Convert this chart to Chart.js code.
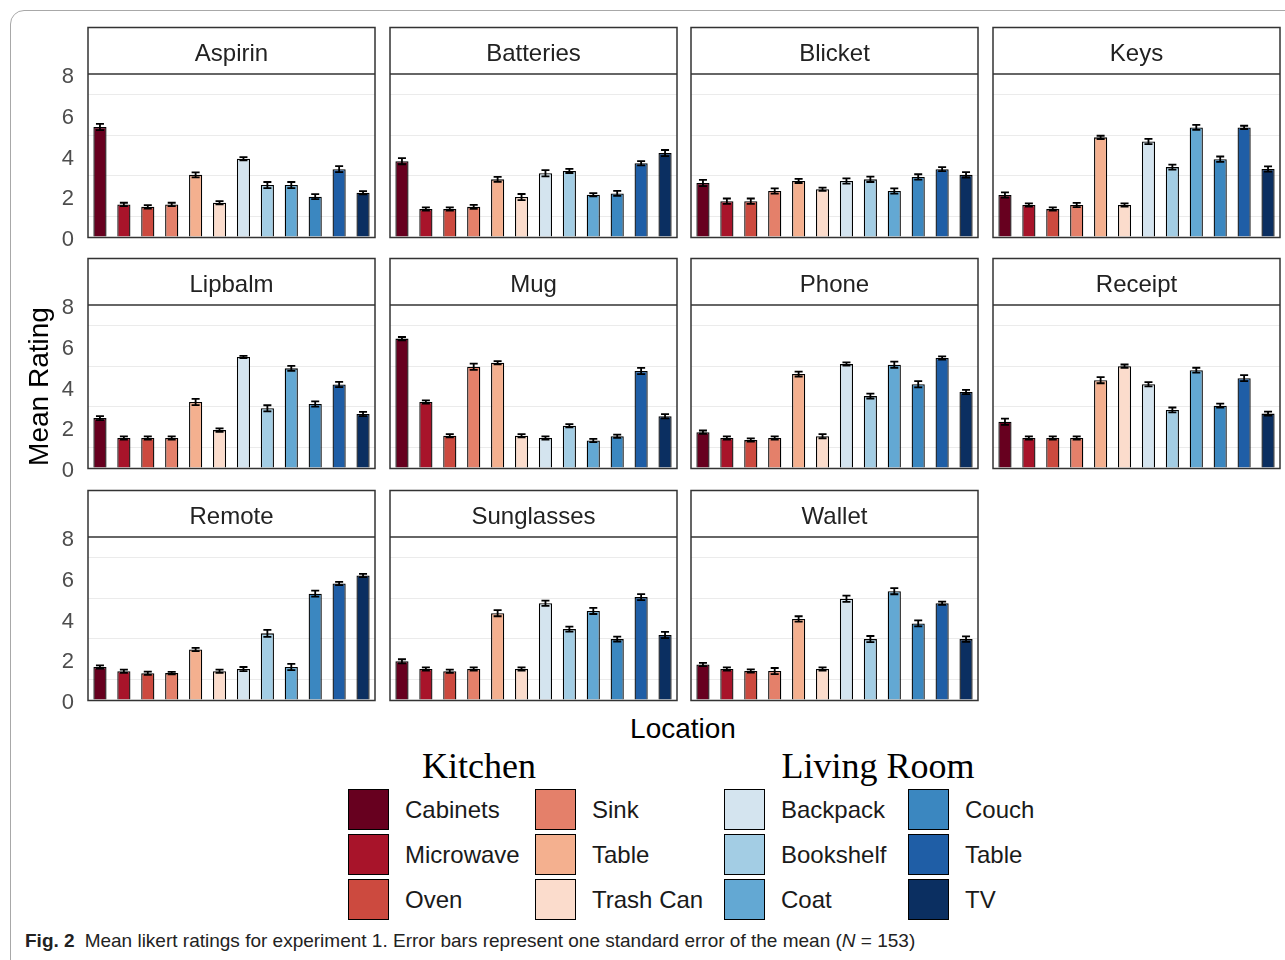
<!DOCTYPE html>
<html lang="en">
<head>
  <meta charset="UTF-8">
  <title>Mean likert ratings for experiment 1</title>
  <script src="https://cdn.jsdelivr.net/npm/chart.js"></script>
  <style>
    body {
      margin: 0;
      width: 1285px;
      height: 960px;
      overflow: hidden;
      position: relative;
      background: #fff;
      font-family: "Liberation Sans", Arial, sans-serif;
    }
    .frame {
      position: absolute;
      left: 10px;
      top: 10px;
      width: 1300px;
      height: 1000px;
      border: 1px solid #a8a8a8;
      border-radius: 14px;
    }
    .panel { position: absolute; }
    .xtitle {
      position: absolute;
      left: 583px;
      top: 713px;
      width: 200px;
      text-align: center;
      font-size: 28px;
      color: #000;
    }
    .group {
      position: absolute;
      font-family: "Liberation Serif", "Times New Roman", serif;
      font-size: 36px;
      color: #000;
      transform: translateX(-50%);
      white-space: nowrap;
    }
    .swatch {
      position: absolute;
      width: 39px;
      height: 39px;
      border: 1.5px solid #000;
    }
    .lab {
      position: absolute;
      font-size: 24px;
      color: #1a1a1a;
      white-space: nowrap;
    }
    .caption {
      position: absolute;
      left: 25px;
      top: 930px;
      font-size: 19px;
      color: #222;
      white-space: nowrap;
    }
    .caption b { margin-right: 10px; }
  </style>
</head>
<body>
  <div class="frame"></div>
  <div class="xtitle">Location</div>
  <div class="caption"><b>Fig. 2</b>Mean likert ratings for experiment 1. Error bars represent one standard error of the mean (<i>N</i> = 153)</div>

  <script>
    const products = ['Aspirin', 'Batteries', 'Blicket', 'Keys', 'Lipbalm', 'Mug', 'Phone', 'Receipt', 'Remote', 'Sunglasses', 'Wallet'];
    const locations = ['Cabinets', 'Microwave', 'Oven', 'Sink', 'Table', 'Trash Can',
                       'Backpack', 'Bookshelf', 'Coat', 'Couch', 'Table', 'TV'];
    const rooms = ['Kitchen', 'Living Room'];
    const colors = ['#67001f', '#a8142a', '#cc4a3f', '#e4806a', '#f4b08f', '#fbdccc',
                    '#d4e4ef', '#a3cde4', '#63a8d3', '#3b87c0', '#1f5ea6', '#0b2f61'];
    const yTicks = [0, 2, 4, 6, 8];

    // mean ratings per object, one value per location
    const aspirin    = [5.40, 1.60, 1.48, 1.60, 3.05, 1.68, 3.84, 2.55, 2.55, 1.98, 3.33, 2.17];
    const batteries  = [3.72, 1.37, 1.37, 1.48, 2.83, 1.96, 3.13, 3.24, 2.07, 2.14, 3.62, 4.12];
    const blicket    = [2.65, 1.76, 1.76, 2.26, 2.75, 2.34, 2.75, 2.83, 2.26, 2.95, 3.33, 3.05];
    const keys       = [2.06, 1.57, 1.37, 1.57, 4.89, 1.57, 4.69, 3.43, 5.38, 3.82, 5.38, 3.34];
    const lipbalm    = [2.45, 1.47, 1.47, 1.47, 3.24, 1.86, 5.45, 2.93, 4.89, 3.14, 4.10, 2.65];
    const mug        = [6.35, 3.24, 1.58, 4.97, 5.17, 1.58, 1.47, 2.07, 1.35, 1.56, 4.76, 2.54];
    const phone      = [1.76, 1.47, 1.37, 1.47, 4.61, 1.56, 5.10, 3.53, 5.07, 4.11, 5.40, 3.73];
    const receipt    = [2.27, 1.47, 1.47, 1.47, 4.31, 5.00, 4.11, 2.85, 4.80, 3.06, 4.41, 2.67];
    const remote     = [1.62, 1.41, 1.31, 1.32, 2.48, 1.41, 1.52, 3.27, 1.62, 5.22, 5.72, 6.11];
    const sunglasses = [1.90, 1.52, 1.41, 1.52, 4.26, 1.52, 4.75, 3.48, 4.37, 2.99, 5.05, 3.19];
    const wallet     = [1.74, 1.52, 1.42, 1.42, 3.98, 1.52, 4.97, 2.99, 5.34, 3.76, 4.75, 2.99];

    // standard errors
    const aspirinSE    = [0.15, 0.08, 0.08, 0.08, 0.12, 0.08, 0.08, 0.15, 0.15, 0.12, 0.15, 0.08];
    const batteriesSE  = [0.15, 0.08, 0.08, 0.10, 0.12, 0.15, 0.15, 0.10, 0.08, 0.12, 0.10, 0.15];
    const blicketSE    = [0.15, 0.13, 0.13, 0.13, 0.10, 0.08, 0.13, 0.13, 0.13, 0.13, 0.10, 0.13];
    const keysSE       = [0.13, 0.08, 0.08, 0.10, 0.08, 0.08, 0.13, 0.12, 0.12, 0.13, 0.08, 0.13];
    const lipbalmSE    = [0.10, 0.08, 0.08, 0.08, 0.15, 0.08, 0.05, 0.15, 0.12, 0.13, 0.13, 0.10];
    const mugSE        = [0.08, 0.08, 0.08, 0.15, 0.08, 0.08, 0.08, 0.08, 0.08, 0.08, 0.15, 0.10];
    const phoneSE      = [0.08, 0.08, 0.08, 0.08, 0.12, 0.10, 0.08, 0.12, 0.15, 0.15, 0.08, 0.10];
    const receiptSE    = [0.15, 0.08, 0.08, 0.08, 0.15, 0.08, 0.10, 0.12, 0.12, 0.10, 0.15, 0.10];
    const remoteSE     = [0.08, 0.08, 0.08, 0.06, 0.08, 0.08, 0.10, 0.17, 0.15, 0.15, 0.08, 0.08];
    const sunglassesSE = [0.10, 0.08, 0.08, 0.08, 0.15, 0.08, 0.13, 0.12, 0.15, 0.12, 0.15, 0.15];
    const walletSE     = [0.08, 0.08, 0.08, 0.15, 0.13, 0.08, 0.15, 0.15, 0.15, 0.15, 0.08, 0.13];

    const means = [aspirin, batteries, blicket, keys, lipbalm, mug, phone, receipt, remote, sunglasses, wallet];
    const errors = [aspirinSE, batteriesSE, blicketSE, keysSE, lipbalmSE, mugSE, phoneSE, receiptSE, remoteSE, sunglassesSE, walletSE];

    // facet layout
    const colLeft = [88, 390, 691, 993];
    const stripTop = [27, 258, 490];
    const panelW = 287, stripH = 47, plotH = 163, padBottom = 16;

    const framePlugin = {
      id: 'frame',
      afterDraw(chart) {
        const a = chart.chartArea, t = chart.titleBlock, ctx = chart.ctx;
        ctx.save();
        ctx.strokeStyle = '#333';
        ctx.lineWidth = 1.5;
        ctx.strokeRect(a.left, t.top + 0.5, a.right - a.left, a.bottom - t.top);
        ctx.beginPath();
        ctx.moveTo(a.left, a.top);
        ctx.lineTo(a.right, a.top);
        ctx.stroke();
        ctx.restore();
      }
    };

    const errorBars = {
      id: 'errorBars',
      afterDatasetsDraw(chart) {
        const ctx = chart.ctx, y = chart.scales.y;
        const se = chart.config.options.plugins.errorBars.se;
        const ds = chart.data.datasets[0].data;
        ctx.save();
        ctx.strokeStyle = '#000';
        ctx.lineWidth = 1.8;
        chart.getDatasetMeta(0).data.forEach((bar, i) => {
          const top = y.getPixelForValue(ds[i] + se[i]);
          const bot = y.getPixelForValue(ds[i] - se[i]);
          ctx.beginPath();
          ctx.moveTo(bar.x, top); ctx.lineTo(bar.x, bot);
          ctx.moveTo(bar.x - 4, top); ctx.lineTo(bar.x + 4, top);
          ctx.moveTo(bar.x - 4, bot); ctx.lineTo(bar.x + 4, bot);
          ctx.stroke();
        });
        ctx.restore();
      }
    };

    products.forEach((name, p) => {
      const col = p % 4, row = Math.floor(p / 4);
      const isLeft = col === 0;
      const axisW = isLeft ? 68 : 1;
      const w = axisW + panelW + 1;
      const h = 1 + stripH + plotH + padBottom;

      const div = document.createElement('div');
      div.className = 'panel';
      div.style.left = (colLeft[col] - axisW) + 'px';
      div.style.top = (stripTop[row] - 1) + 'px';
      const canvas = document.createElement('canvas');
      canvas.width = w;
      canvas.height = h;
      div.appendChild(canvas);
      document.body.appendChild(div);

      new Chart(canvas.getContext('2d'), {
        type: 'bar',
        data: {
          labels: locations,
          datasets: [{
            data: means[p],
            backgroundColor: colors,
            borderColor: '#000',
            borderWidth: 1.3,
            barPercentage: 0.55,
            categoryPercentage: 1
          }]
        },
        options: {
          responsive: false,
          animation: false,
          devicePixelRatio: 1,
          layout: { padding: { top: 1, right: 1, bottom: padBottom, left: 0 } },
          plugins: {
            legend: { display: false },
            tooltip: { enabled: false },
            title: {
              display: true,
              text: name,
              fullSize: false,
              color: '#222',
              font: { size: 24, weight: 'normal', family: '"Liberation Sans", Arial, sans-serif', lineHeight: 1.2 },
              padding: { top: 12.5, bottom: 5.7 }
            },
            errorBars: { se: errors[p] }
          },
          scales: {
            x: { display: false, offset: true },
            y: {
              min: 0,
              max: 8,
              afterFit: s => {
                s.width = axisW;
                s.paddingTop = 0;
                s.paddingBottom = 0;
              },
              border: { display: false },
              grid: {
                drawTicks: false,
                color: c => (c.tick.value % 2 ? '#ebebeb' : 'rgba(0,0,0,0)')
              },
              ticks: {
                display: isLeft,
                stepSize: 1,
                autoSkip: false,
                padding: 14,
                labelOffset: 3,
                color: '#4d4d4d',
                font: { size: 22, family: '"Liberation Sans", Arial, sans-serif' },
                callback: v => (yTicks.includes(v) ? v : '')
              },
              title: {
                display: name === 'Lipbalm',
                text: 'Mean Rating',
                color: '#000',
                font: { size: 28, family: '"Liberation Sans", Arial, sans-serif', lineHeight: 1.2 },
                padding: { top: 3, bottom: 0 }
              }
            }
          }
        },
        plugins: [framePlugin, errorBars]
      });
    });

    // legend: two rooms, each with two columns of three swatches
    const swatchLeft = [348, 535, 724, 908];
    const swatchTop = [789, 834, 879];
    const groupCenter = [479, 878];
    rooms.forEach((room, r) => {
      const g = document.createElement('div');
      g.className = 'group';
      g.textContent = room;
      g.style.left = groupCenter[r] + 'px';
      g.style.top = '745px';
      document.body.appendChild(g);
    });
    locations.forEach((loc, i) => {
      const c = Math.floor(i / 3), r = i % 3;
      const sw = document.createElement('div');
      sw.className = 'swatch';
      sw.style.left = swatchLeft[c] + 'px';
      sw.style.top = swatchTop[r] + 'px';
      sw.style.background = colors[i];
      document.body.appendChild(sw);
      const lab = document.createElement('div');
      lab.className = 'lab';
      lab.textContent = loc;
      lab.style.left = (swatchLeft[c] + 57) + 'px';
      lab.style.top = (swatchTop[r] + 7) + 'px';
      document.body.appendChild(lab);
    });
  </script>
</body>
</html>
